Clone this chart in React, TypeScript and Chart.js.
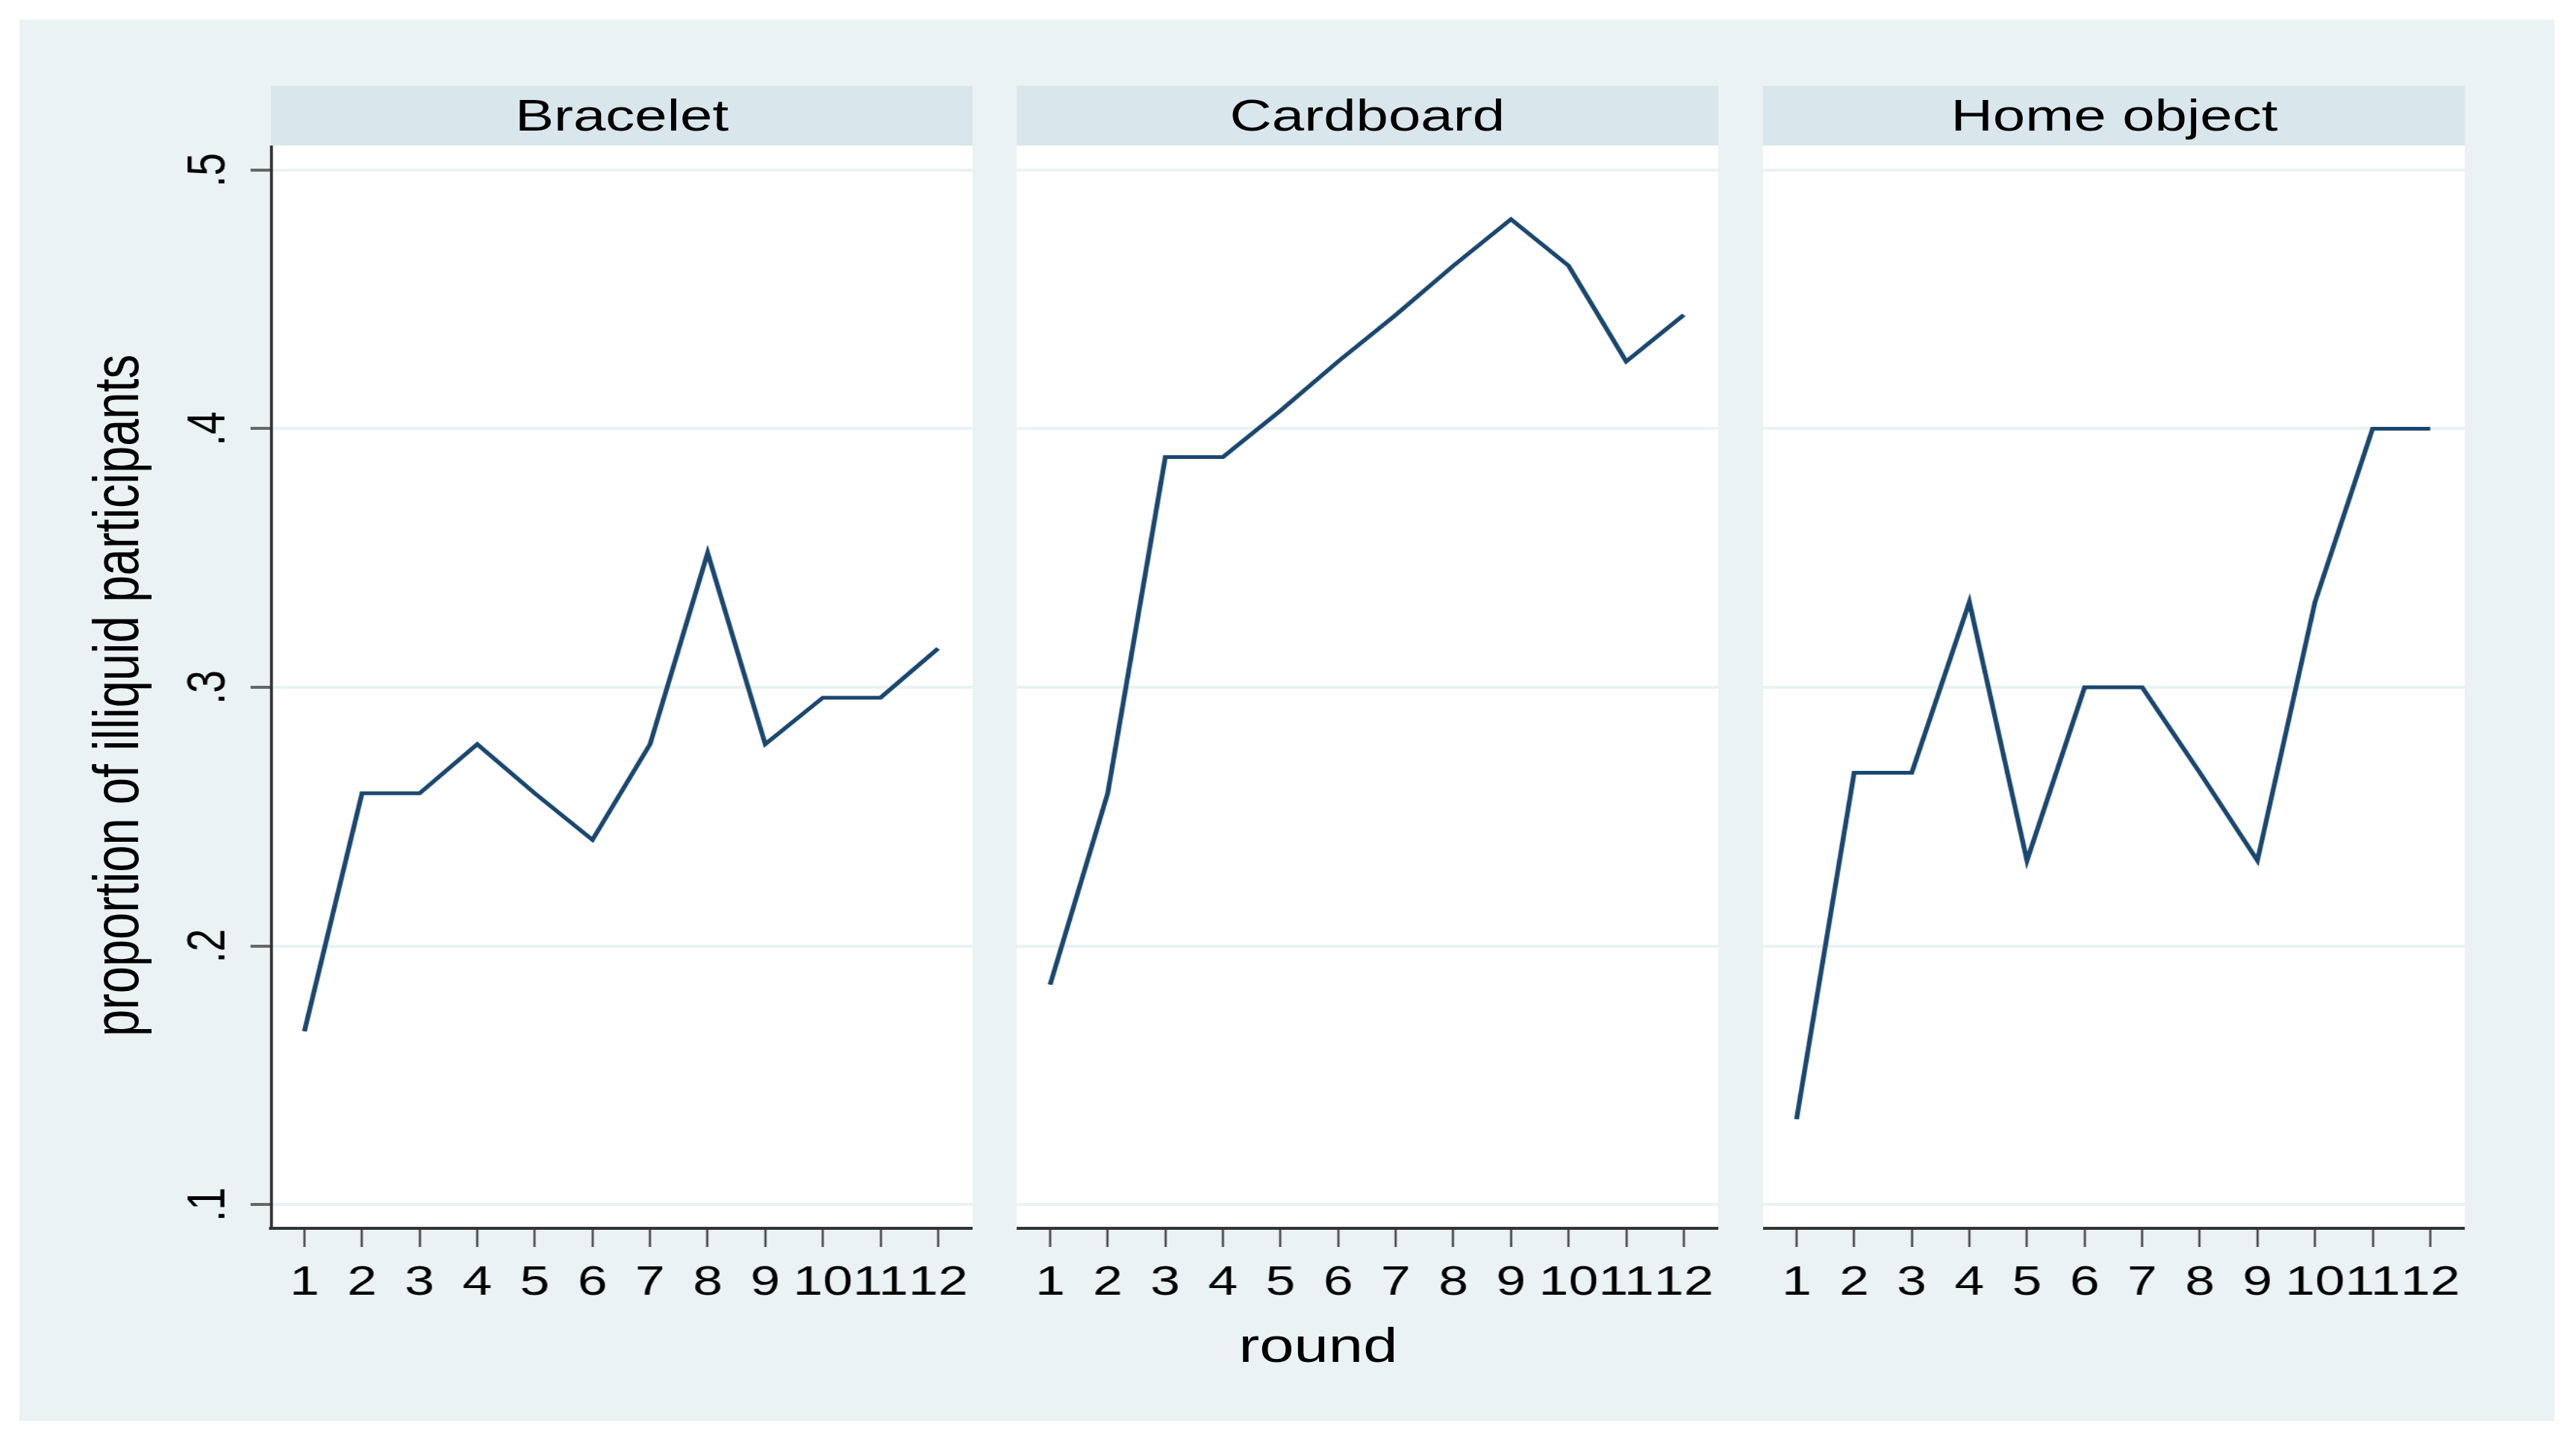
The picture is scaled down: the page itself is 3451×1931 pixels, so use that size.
import React, { useEffect, useRef } from 'react';
import { Chart, registerables } from 'chart.js';

Chart.register(...registerables);

// ---------------- data ----------------
const rounds = [1, 2, 3, 4, 5, 6, 7, 8, 9, 10, 11, 12];
const panelTitles = ['Bracelet', 'Cardboard', 'Home object'];
const bracelet = [0.167, 0.259, 0.259, 0.278, 0.259, 0.241, 0.278, 0.352, 0.278, 0.296, 0.296, 0.315];
const cardboard = [0.185, 0.259, 0.389, 0.389, 0.407, 0.426, 0.444, 0.463, 0.481, 0.463, 0.426, 0.444];
const homeObject = [0.133, 0.267, 0.267, 0.333, 0.233, 0.3, 0.3, 0.267, 0.233, 0.333, 0.4, 0.4];
const yTicks = [0.1, 0.2, 0.3, 0.4, 0.5];
const yAxisTitle = 'proportion of illiquid participants';
const xAxisTitle = 'round';

// ---------------- style ----------------
const SX = 1.3; // horizontal stretch of the reference rendering
const NAVY = '#1A476F';
const BG = '#EAF2F3';
const STRIP = '#D9E6EB';
const FONT = '"Liberation Sans", Arial, Helvetica, sans-serif';

const PLOT_TOP = 195;
const PLOT_W_BM = 723;
const X_AXIS_H = 114;
const CANVAS_H = 1565;
const Y_AXIS_W_BM = 100;
const PANEL_LEFTS = [363, 1362, 2362];

const whitePlot = {
  id: 'whitePlot',
  beforeDraw(chart: any) {
    const { ctx, chartArea } = chart;
    ctx.save();
    ctx.fillStyle = '#ffffff';
    ctx.fillRect(chartArea.left, chartArea.top, chartArea.right - chartArea.left, chartArea.bottom - chartArea.top);
    ctx.restore();
  },
};

function Panel({ values, showY, left }: { values: number[]; showY: boolean; left: number }) {
  const ref = useRef<HTMLCanvasElement | null>(null);
  const bmW = PLOT_W_BM + (showY ? Y_AXIS_W_BM : 0);
  const cssLeft = showY ? left - Y_AXIS_W_BM * SX : left;

  useEffect(() => {
    const canvas = ref.current;
    if (!canvas) return;
    const chart = new Chart(canvas, {
      type: 'line',
      data: {
        datasets: [
          {
            data: rounds.map((r, i) => ({ x: r, y: values[i] })),
            borderColor: NAVY,
            borderWidth: 5,
            pointRadius: 0,
            tension: 0,
            fill: false,
          },
        ],
      },
      options: {
        animation: false,
        responsive: false,
        devicePixelRatio: 1,
        events: [],
        layout: { padding: 0 },
        plugins: {
          legend: { display: false },
          tooltip: { enabled: false },
          title: { display: false },
        },
        scales: {
          x: {
            type: 'linear',
            min: 0.42,
            max: 12.6,
            afterBuildTicks: (s: any) => {
              s.ticks = rounds.map((v) => ({ value: v }));
            },
            afterFit: (s: any) => {
              s.height = X_AXIS_H;
              s.paddingLeft = 0;
              s.paddingRight = 0;
              s.paddingTop = 0;
              s.paddingBottom = 0;
            },
            grid: {
              drawOnChartArea: false,
              drawTicks: true,
              tickLength: 25,
              tickWidth: 2,
              tickColor: '#333333',
            },
            border: { display: true, color: '#333333', width: 4 },
            ticks: {
              autoSkip: false,
              maxRotation: 0,
              minRotation: 0,
              padding: 16,
              color: '#000000',
              font: { family: FONT, size: 55 },
              callback: (v: any) => String(v),
            },
          },
          y: {
            type: 'linear',
            min: 0.0908,
            max: 0.5095,
            afterBuildTicks: (s: any) => {
              s.ticks = yTicks.map((v) => ({ value: v }));
            },
            afterFit: (s: any) => {
              s.width = showY ? Y_AXIS_W_BM : 0;
              s.paddingTop = 0;
              s.paddingBottom = 0;
              s.paddingLeft = 0;
              s.paddingRight = 0;
            },
            grid: {
              color: BG,
              lineWidth: 4,
              drawTicks: showY,
              tickLength: 21,
              tickWidth: 4,
              tickColor: '#666666',
            },
            border: { display: showY, color: '#333333', width: 3 },
            ticks: {
              display: showY,
              autoSkip: false,
              minRotation: 90,
              maxRotation: 90,
              crossAlign: 'center',
              padding: 19,
              color: '#000000',
              font: { family: FONT, size: 55 },
              callback: (v: any) => Number(v).toFixed(1).replace(/^0/, ''),
            },
          },
        },
      } as any,
      plugins: [whitePlot],
    });
    return () => chart.destroy();
  }, [values, showY]);

  return (
    <canvas
      ref={ref}
      width={bmW}
      height={CANVAS_H}
      style={{
        position: 'absolute',
        left: `${cssLeft}px`,
        top: `${PLOT_TOP}px`,
        width: `${bmW * SX}px`,
        height: `${CANVAS_H}px`,
      }}
    />
  );
}

const seriesList = [bracelet, cardboard, homeObject];

export default function App() {
  return (
    <div
      style={{
        position: 'fixed',
        left: 0,
        top: 0,
        width: '3451px',
        height: '1931px',
        background: '#ffffff',
        overflow: 'hidden',
        fontFamily: FONT,
      }}
    >
      <div
        style={{
          position: 'absolute',
          left: '26px',
          top: '26px',
          width: '3396px',
          height: '1878px',
          background: BG,
        }}
      />
      {panelTitles.map((t, i) => (
        <div
          key={t}
          style={{
            position: 'absolute',
            left: `${PANEL_LEFTS[i]}px`,
            top: '115px',
            width: `${PLOT_W_BM * SX}px`,
            height: '80px',
            background: STRIP,
            display: 'flex',
            alignItems: 'center',
            justifyContent: 'center',
          }}
        >
          <span
            style={{
              display: 'inline-block',
              fontSize: '60px',
              lineHeight: 1,
              color: '#000',
              whiteSpace: 'nowrap',
              transform: `scaleX(${SX})`,
            }}
          >
            {t}
          </span>
        </div>
      ))}
      {seriesList.map((vals, i) => (
        <Panel key={i} values={vals} showY={i === 0} left={PANEL_LEFTS[i]} />
      ))}
      <div
        style={{
          position: 'absolute',
          left: '156px',
          top: '932px',
          fontSize: '65px',
          lineHeight: 1,
          color: '#000',
          whiteSpace: 'nowrap',
          transform: `translate(-50%, -50%) scaleX(${SX}) rotate(-90deg)`,
        }}
      >
        {yAxisTitle}
      </div>
      <div
        style={{
          position: 'absolute',
          left: '1766px',
          top: '1771px',
          fontSize: '64px',
          lineHeight: 1,
          color: '#000',
          whiteSpace: 'nowrap',
          transform: `translateX(-50%) scaleX(${SX})`,
        }}
      >
        {xAxisTitle}
      </div>
    </div>
  );
}
